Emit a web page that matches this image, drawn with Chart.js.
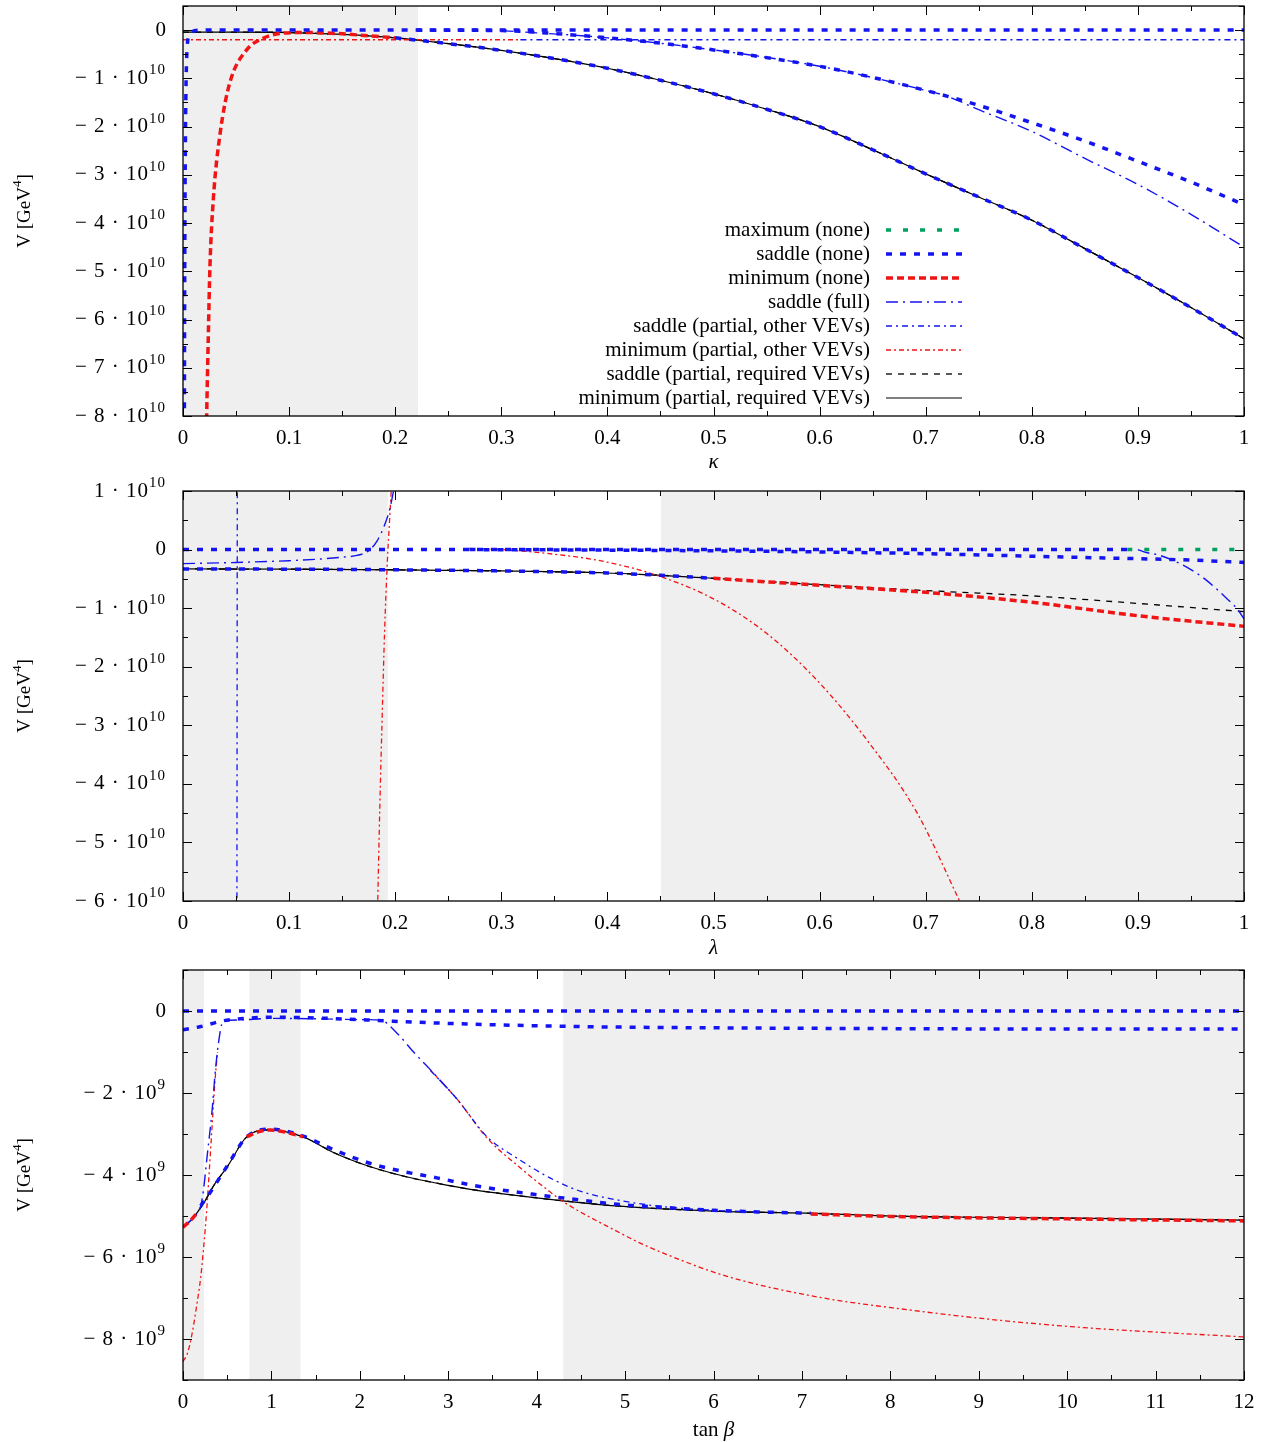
<!DOCTYPE html>
<html>
<head>
<meta charset="utf-8">
<script src="https://cdn.jsdelivr.net/npm/chart.js@4.4.0/dist/chart.umd.min.js"></script>
<style>
  html, body { margin: 0; padding: 0; background: #fff; }
  #wrap { position: relative; width: 1267px; height: 1442px; }
  canvas { position: absolute; left: 0; }
</style>
</head>
<body>
<div id="wrap">
  <canvas id="chartKappa" width="1267" height="475" style="top:0px"></canvas>
  <canvas id="chartLambda" width="1267" height="490" style="top:475px"></canvas>
  <canvas id="chartTanb" width="1267" height="477" style="top:965px"></canvas>
</div>
<script>
// ---------- tick labels ----------
const kappaTicks  = [0, 0.1, 0.2, 0.3, 0.4, 0.5, 0.6, 0.7, 0.8, 0.9, 1];
const lambdaTicks = [0, 0.1, 0.2, 0.3, 0.4, 0.5, 0.6, 0.7, 0.8, 0.9, 1];
const tanbTicks   = [0, 1, 2, 3, 4, 5, 6, 7, 8, 9, 10, 11, 12];
const kappaVTicks  = [-8, -7, -6, -5, -4, -3, -2, -1, 0];   // 10^10 GeV^4
const lambdaVTicks = [-6, -5, -4, -3, -2, -1, 0, 1];        // 10^10 GeV^4
const tanbVTicks   = [-8, -6, -4, -2, 0];                   // 10^9 GeV^4

// shaded parameter ranges
const kappaShade  = [[0, 0.2215]];
const lambdaShade = [[0, 0.193], [0.4505, 1]];
const tanbShade   = [[0, 0.237], [0.75, 1.33], [4.3, 12]];

// ---------- panel 1: V vs kappa (units 10^10 GeV^4) ----------
const kSadNoneAX = [0.0012, 0.0015, 0.0018, 0.0022, 0.0028, 0.0036, 0.005, 0.008, 0.015, 0.05, 1];
const kSadNoneAV = [-9, -6, -4, -2.5, -1.2, -0.5, -0.15, -0.04, 0, 0, 0];
const kSadNoneBX = [0.22, 0.3, 0.35, 0.4, 0.45, 0.5, 0.55, 0.6, 0.65, 0.7, 0.75, 0.8, 0.85, 0.9, 0.95, 1];
const kSadNoneBV = [0, -0.01, -0.07, -0.16, -0.27, -0.41, -0.57, -0.75, -0.98, -1.25, -1.56, -1.92, -2.3, -2.72, -3.15, -3.62];
const kMinReqX = [0, 0.05, 0.1, 0.15, 0.2, 0.25, 0.3, 0.35, 0.4, 0.45, 0.5, 0.55, 0.6, 0.65, 0.7, 0.75, 0.8, 0.85, 0.9, 0.95, 1];
const kMinReqV = [-0.04, -0.04, -0.05, -0.09, -0.16, -0.28, -0.42, -0.59, -0.79, -1.04, -1.32, -1.64, -2.0, -2.48, -2.98, -3.46, -3.94, -4.53, -5.13, -5.75, -6.4];
const kMinNoneX = [0.0215, 0.0223, 0.0239, 0.0254, 0.0286, 0.035, 0.044, 0.06, 0.0755, 0.0915, 0.113, 0.145, 0.176, 0.2];
const kMinNoneV = [-9, -8, -6.3, -4.9, -3.5, -2.14, -1.1, -0.41, -0.17, -0.07, -0.05, -0.07, -0.12, -0.16];
const kSadFullX = [0.3, 0.4, 0.5, 0.6, 0.7, 0.72, 0.75, 0.8, 0.85, 0.9, 0.95, 1];
const kSadFullV = [-0.01, -0.16, -0.41, -0.75, -1.25, -1.37, -1.65, -2.1, -2.66, -3.2, -3.82, -4.5];
const kSadOtherX = [0.318, 1];
const kSadOtherV = [-0.2, -0.2];
const kMinOtherX = [0, 0.318];
const kMinOtherV = [-0.2, -0.2];

// ---------- panel 2: V vs lambda (units 10^10 GeV^4) ----------
const lSadNoneAX = [0, 0.89];
const lSadNoneAV = [0, 0];
const lMaxNoneX = [0.89, 1];
const lMaxNoneV = [0, 0];
const lSadNoneBX = [0.27, 0.4, 0.55, 0.7, 0.77, 0.86, 0.95, 1];
const lSadNoneBV = [0, -0.01, -0.03, -0.07, -0.1, -0.14, -0.18, -0.22];
const lMinReqX = [0, 0.1, 0.2, 0.3, 0.4, 0.45, 0.5];
const lMinReqV = [-0.33, -0.335, -0.345, -0.365, -0.4, -0.44, -0.49];
const lSadReqX = [0, 0.1, 0.2, 0.3, 0.4, 0.45, 0.5, 0.6, 0.7, 0.8, 0.9, 1];
const lSadReqV = [-0.33, -0.335, -0.345, -0.365, -0.4, -0.44, -0.49, -0.6, -0.7, -0.79, -0.92, -1.06];
const lMinNoneX = [0.5, 0.6, 0.7, 0.8, 0.9, 1];
const lMinNoneV = [-0.49, -0.61, -0.73, -0.9, -1.13, -1.31];
const lMinOther1X = [0.1833, 0.1855, 0.1878, 0.19, 0.1925, 0.195, 0.1972];
const lMinOther1V = [-6.2, -4.4, -2.8, -1.4, -0.25, 0.6, 1.3];
const lMinOther2X = [0.27, 0.3, 0.35, 0.393, 0.45, 0.503, 0.55, 0.598, 0.645, 0.692, 0.732, 0.74];
const lMinOther2V = [0.02, 0, -0.08, -0.19, -0.46, -0.87, -1.43, -2.24, -3.26, -4.5, -6.0, -6.3];
const lSadFull1X = [0, 0.05, 0.1, 0.13, 0.15, 0.164, 0.175, 0.183, 0.19, 0.195, 0.199];
const lSadFull1V = [-0.24, -0.22, -0.19, -0.16, -0.13, -0.1, -0.02, 0.15, 0.42, 0.7, 1.05];
const lSadFull2X = [0.9, 0.908, 0.921, 0.946, 0.965, 0.984, 0.993, 1];
const lSadFull2V = [0, -0.05, -0.1, -0.3, -0.53, -0.84, -1.0, -1.18];
const lSadOtherX = [0.0508, 0.0512];
const lSadOtherV = [-6.5, 1.5];

// ---------- panel 3: V vs tan(beta) (units 10^9 GeV^4) ----------
const tSadNoneAX = [0, 12];
const tSadNoneAV = [0, 0];
const tSadNoneBX = [0, 0.2, 0.45, 0.7, 1.0, 1.5, 2.1, 2.6, 3.25, 4.0, 4.83, 6, 8, 10, 12];
const tSadNoneBV = [-0.46, -0.38, -0.24, -0.18, -0.15, -0.17, -0.22, -0.27, -0.32, -0.36, -0.39, -0.41, -0.43, -0.44, -0.44];
const tSadNoneCX = [0.2, 0.3, 0.5, 0.72, 0.98, 1.36, 1.7, 2.12, 2.5, 2.87, 3.25, 3.62, 4.0, 4.3, 4.94, 5.5, 6.0, 6.5, 7.1];
const tSadNoneCV = [-4.75, -4.45, -3.78, -3.07, -2.88, -3.05, -3.38, -3.72, -3.92, -4.07, -4.24, -4.37, -4.48, -4.56, -4.72, -4.8, -4.86, -4.9, -4.93];
const tMinReqX = [0, 0.1, 0.23, 0.35, 0.5, 0.72, 0.98, 1.36, 1.7, 2.12, 2.5, 2.87, 3.25, 3.62, 4.0, 4.3, 4.94, 6.0, 7.05, 8.0, 10.0, 12.0];
const tMinReqV = [-5.27, -5.08, -4.7, -4.25, -3.8, -3.07, -2.9, -3.07, -3.45, -3.8, -4.03, -4.2, -4.35, -4.46, -4.56, -4.63, -4.76, -4.88, -4.93, -5.0, -5.05, -5.1];
const tMinNone1X = [0, 0.08, 0.15];
const tMinNone1V = [-5.27, -5.12, -4.95];
const tMinNone2X = [0.72, 0.85, 0.98, 1.15, 1.36];
const tMinNone2V = [-3.07, -2.95, -2.9, -2.95, -3.07];
const tMinNone3X = [7.1, 8, 10, 12];
const tMinNone3V = [-4.95, -5.01, -5.07, -5.12];
const tSadFullX = [0, 0.1, 0.2, 0.23, 0.27, 0.33, 0.36, 0.4, 0.45, 0.61, 1.0, 1.5, 2.0, 2.23, 2.42, 2.6, 2.87, 3.1];
const tSadFullV = [-5.27, -5.08, -4.75, -4.4, -3.6, -2.4, -1.6, -0.8, -0.27, -0.22, -0.18, -0.19, -0.21, -0.22, -0.54, -0.98, -1.6, -2.15];
const tSadOtherX = [2.8, 3.1, 3.44, 3.8, 4.15, 4.5, 4.94, 5.42, 6.0, 6.5];
const tSadOtherV = [-1.45, -2.15, -3.07, -3.62, -4.07, -4.4, -4.62, -4.77, -4.86, -4.9];
const tMinOther1X = [0, 0.05, 0.1, 0.15, 0.2, 0.23, 0.27, 0.305, 0.335, 0.362, 0.39];
const tMinOther1V = [-8.55, -8.35, -7.9, -7.25, -6.5, -5.85, -4.8, -3.63, -2.6, -1.7, -1.0];
const tMinOther2X = [2.8, 3.1, 3.44, 3.8, 4.15, 4.3, 4.94, 5.17, 5.66, 6.18, 7.19, 8.21, 9.22, 10.24, 12];
const tMinOther2V = [-1.45, -2.15, -3.1, -3.8, -4.41, -4.65, -5.41, -5.66, -6.1, -6.49, -6.98, -7.29, -7.54, -7.73, -7.95];

// ---------- styles ----------
const BLUE = '#1414f0', RED = '#f01414', GREEN = '#00a060', BLACK = '#000';
const STYLES = {
  maxNone:  { color: GREEN, width: 3.5, dash: [5, 12] },
  sadNone:  { color: BLUE,  width: 3.5, dash: [6, 8] },
  minNone:  { color: RED,   width: 3.5, dash: [7, 4] },
  sadFull:  { color: BLUE,  width: 1.4, dash: [12, 5, 2, 5] },
  sadOther: { color: BLUE,  width: 1.3, dash: [6, 4, 2, 4] },
  minOther: { color: RED,   width: 1.3, dash: [5, 3, 2, 3] },
  sadReq:   { color: BLACK, width: 1.3, dash: [6, 6] },
  minReq:   { color: BLACK, width: 1.2, dash: [] }
};
const LEGEND = [
  ['maximum (none)', 'maxNone'],
  ['saddle (none)', 'sadNone'],
  ['minimum (none)', 'minNone'],
  ['saddle (full)', 'sadFull'],
  ['saddle (partial, other VEVs)', 'sadOther'],
  ['minimum (partial, other VEVs)', 'minOther'],
  ['saddle (partial, required VEVs)', 'sadReq'],
  ['minimum (partial, required VEVs)', 'minReq']
];

const FONT = '"Liberation Serif", "Times New Roman", "DejaVu Serif", serif';
Chart.defaults.font.family = FONT;
Chart.defaults.font.size = 21;
Chart.defaults.color = '#000';

// join one or more [xs, ys] pieces into points, with a gap between pieces
function points(...pieces) {
  const out = [];
  pieces.forEach(([xs, ys], p) => {
    if (p > 0) out.push({ x: (out[out.length - 1].x + xs[0]) / 2, y: null });
    xs.forEach((x, i) => out.push({ x, y: ys[i] }));
  });
  return out;
}

function line(key, data) {
  const s = STYLES[key];
  return {
    label: key,
    data,
    borderColor: s.color,
    borderWidth: s.width,
    borderDash: s.dash,
    borderCapStyle: 'butt',
    pointRadius: 0,
    fill: false,
    spanGaps: false,
    cubicInterpolationMode: 'monotone'
  };
}

// text with a raised exponent, right-aligned at xr
function supText(ctx, base, exp, xr, y, size) {
  ctx.textAlign = 'left';
  ctx.font = Math.round(size * 0.7) + 'px ' + FONT;
  const we = exp ? ctx.measureText(exp).width : 0;
  ctx.font = size + 'px ' + FONT;
  const wb = ctx.measureText(base).width;
  ctx.fillText(base, xr - we - wb, y);
  if (exp) {
    ctx.font = Math.round(size * 0.7) + 'px ' + FONT;
    ctx.fillText(exp, xr - we, y - size * 0.38);
  }
}

// shading, inward ticks, frame, labels and legend
const framePlugin = {
  id: 'frame',
  beforeDatasetsDraw(chart, args, opts) {
    const { ctx, chartArea: a, scales: { x } } = chart;
    ctx.save();
    ctx.fillStyle = '#efefef';
    (opts.shade || []).forEach(([x0, x1]) => {
      const p0 = x.getPixelForValue(x0), p1 = x.getPixelForValue(x1);
      ctx.fillRect(p0, a.top, p1 - p0, a.bottom - a.top);
    });
    ctx.restore();
  },
  afterDatasetsDraw(chart, args, opts) {
    const { ctx, chartArea: a, scales: { x, y } } = chart;
    ctx.save();
    ctx.strokeStyle = '#000';
    ctx.lineWidth = 1;
    ctx.setLineDash([]);
    const xTick = (v, len) => {
      const p = Math.round(x.getPixelForValue(v)) + 0.5;
      ctx.beginPath();
      ctx.moveTo(p, a.bottom); ctx.lineTo(p, a.bottom - len);
      ctx.moveTo(p, a.top); ctx.lineTo(p, a.top + len);
      ctx.stroke();
    };
    const yTick = (v, len) => {
      const p = Math.round(y.getPixelForValue(v)) + 0.5;
      ctx.beginPath();
      ctx.moveTo(a.left, p); ctx.lineTo(a.left + len, p);
      ctx.moveTo(a.right, p); ctx.lineTo(a.right - len, p);
      ctx.stroke();
    };
    const nx = Math.round((x.max - x.min) / opts.xMinor);
    for (let i = 0; i <= nx; i++) xTick(x.min + i * opts.xMinor, 5);
    const ny = Math.round((y.max - y.min) / opts.yMinor);
    for (let i = 0; i <= ny; i++) yTick(y.min + i * opts.yMinor, 5);
    x.ticks.forEach(t => xTick(t.value, 9));
    y.ticks.forEach(t => yTick(t.value, 9));
    ctx.lineWidth = 1.3;
    ctx.strokeRect(a.left, a.top, a.right - a.left, a.bottom - a.top);

    // y tick labels: "− n · 10^e"
    ctx.fillStyle = '#000';
    ctx.textBaseline = 'middle';
    y.ticks.forEach(t => {
      const py = y.getPixelForValue(t.value);
      if (t.value === 0) {
        supText(ctx, '0', '', a.left - 17, py, 21);
      } else {
        const base = (t.value < 0 ? '\u2212 ' : '') + Math.abs(t.value) + ' \u00b7 10';
        ctx.letterSpacing = '1px';
        supText(ctx, base, opts.yExp, a.left - 17, py, 21);
        ctx.letterSpacing = '0px';
      }
    });

    // y axis title, rotated
    ctx.save();
    ctx.translate(25, (a.top + a.bottom) / 2);
    ctx.rotate(-Math.PI / 2);
    ctx.font = '19px ' + FONT;
    const wA = ctx.measureText('V [GeV').width, wC = ctx.measureText(']').width;
    ctx.font = '13px ' + FONT;
    const wB = ctx.measureText('4').width;
    const x0 = -(wA + wB + wC) / 2;
    ctx.textAlign = 'left';
    ctx.font = '19px ' + FONT;
    ctx.fillText('V [GeV', x0, 0);
    ctx.fillText(']', x0 + wA + wB, 0);
    ctx.font = '13px ' + FONT;
    ctx.fillText('4', x0 + wA, -7);
    ctx.restore();

    // x axis title
    const cx = (a.left + a.right) / 2, ty = a.bottom + opts.titleGap;
    ctx.textAlign = 'left';
    ctx.font = '21px ' + FONT;
    const wn = ctx.measureText(opts.xTitleUp).width;
    ctx.font = 'italic 21px ' + FONT;
    const wi = ctx.measureText(opts.xTitleIt).width;
    ctx.font = '21px ' + FONT;
    ctx.fillText(opts.xTitleUp, cx - (wn + wi) / 2, ty);
    ctx.font = 'italic 21px ' + FONT;
    ctx.fillText(opts.xTitleIt, cx - (wn + wi) / 2 + wn, ty);

    if (opts.legend) {
      const lg = opts.legend;
      ctx.font = '21px ' + FONT;
      ctx.textAlign = 'right';
      ctx.textBaseline = 'middle';
      LEGEND.forEach(([text, key], i) => {
        const yy = lg.top + i * lg.step;
        ctx.fillStyle = '#000';
        ctx.fillText(text, lg.textRight, yy);
        const s = STYLES[key];
        ctx.strokeStyle = s.color;
        ctx.lineWidth = s.width;
        ctx.setLineDash(s.dash);
        ctx.lineCap = 'butt';
        ctx.beginPath();
        ctx.moveTo(lg.x0, yy);
        ctx.lineTo(lg.x1, yy);
        ctx.stroke();
      });
    }
    ctx.restore();
  }
};

function makeChart(id, cfg) {
  return new Chart(document.getElementById(id), {
    type: 'line',
    data: { datasets: cfg.datasets },
    plugins: [framePlugin],
    options: {
      responsive: false,
      animation: false,
      layout: { autoPadding: false, padding: { top: cfg.padTop, right: 23, left: 0, bottom: 0 } },
      plugins: {
        legend: { display: false },
        tooltip: { enabled: false },
        frame: {
          shade: cfg.shade, xMinor: cfg.xMinor, yMinor: cfg.yMinor, legend: cfg.legend,
          yExp: cfg.yExp, xTitleUp: cfg.xTitleUp, xTitleIt: cfg.xTitleIt, titleGap: cfg.titleGap
        }
      },
      scales: {
        x: {
          type: 'linear',
          min: cfg.xMin, max: cfg.xMax,
          afterBuildTicks: s => { s.ticks = cfg.xTicks.map(v => ({ value: v })); },
          afterFit: s => { s.height = cfg.xAxisHeight; s.paddingLeft = 0; s.paddingRight = 0; },
          grid: { display: false, drawTicks: false },
          border: { display: false },
          ticks: { autoSkip: false, maxRotation: 0, padding: 10,
                   callback: v => String(Math.round(v * 10) / 10) }
        },
        y: {
          type: 'linear',
          min: cfg.yMin, max: cfg.yMax,
          afterBuildTicks: s => { s.ticks = cfg.yTicks.map(v => ({ value: v })); },
          afterFit: s => { s.width = 183; s.paddingTop = 0; s.paddingBottom = 0; },
          grid: { display: false, drawTicks: false },
          border: { display: false },
          ticks: { display: false }
        }
      }
    }
  });
}

// ---------- panel 1 ----------
makeChart('chartKappa', {
  padTop: 6, xAxisHeight: 59,
  xMin: 0, xMax: 1, yMin: -8, yMax: 0.5,
  xTicks: kappaTicks, yTicks: kappaVTicks, xMinor: 0.05, yMinor: 0.5,
  xTitleUp: '', xTitleIt: '\u03ba', titleGap: 46, yExp: '10',
  shade: kappaShade,
  legend: { top: 230, step: 24, textRight: 870, x0: 886, x1: 962 },
  datasets: [
    line('sadNone', points([kSadNoneAX, kSadNoneAV])),
    line('sadNone', points([kSadNoneBX, kSadNoneBV])),
    line('sadNone', points([kMinReqX.slice(4), kMinReqV.slice(4)])),
    line('minNone', points([kMinNoneX, kMinNoneV])),
    line('sadFull', points([kSadFullX, kSadFullV])),
    line('sadOther', points([kSadOtherX, kSadOtherV])),
    line('minOther', points([kMinOtherX, kMinOtherV])),
    line('sadReq', points([kMinReqX, kMinReqV])),
    line('minReq', points([kMinReqX, kMinReqV]))
  ]
});

// ---------- panel 2 ----------
makeChart('chartLambda', {
  padTop: 16, xAxisHeight: 64,
  xMin: 0, xMax: 1, yMin: -6, yMax: 1,
  xTicks: lambdaTicks, yTicks: lambdaVTicks, xMinor: 0.05, yMinor: 0.5,
  xTitleUp: '', xTitleIt: '\u03bb', titleGap: 47, yExp: '10',
  shade: lambdaShade,
  datasets: [
    line('maxNone', points([lMaxNoneX, lMaxNoneV])),
    line('sadNone', points([lSadNoneAX, lSadNoneAV])),
    line('sadNone', points([lSadNoneBX, lSadNoneBV])),
    line('sadNone', points([lMinReqX, lMinReqV])),
    line('minNone', points([lMinNoneX, lMinNoneV])),
    line('sadFull', points([lSadFull1X, lSadFull1V], [lSadFull2X, lSadFull2V])),
    line('sadOther', points([lSadOtherX, lSadOtherV])),
    line('minOther', points([lMinOther1X, lMinOther1V], [lMinOther2X, lMinOther2V])),
    line('sadReq', points([lSadReqX, lSadReqV])),
    line('minReq', points([lMinReqX, lMinReqV]))
  ]
});

// ---------- panel 3 ----------
makeChart('chartTanb', {
  padTop: 5, xAxisHeight: 62,
  xMin: 0, xMax: 12, yMin: -9, yMax: 1,
  xTicks: tanbTicks, yTicks: tanbVTicks, xMinor: 0.5, yMinor: 1,
  xTitleUp: 'tan ', xTitleIt: '\u03b2', titleGap: 50, yExp: '9',
  shade: tanbShade,
  datasets: [
    line('sadNone', points([tSadNoneAX, tSadNoneAV])),
    line('sadNone', points([tSadNoneBX, tSadNoneBV])),
    line('minNone', points([tMinNone1X, tMinNone1V], [tMinNone2X, tMinNone2V], [tMinNone3X, tMinNone3V])),
    line('sadNone', points([tSadNoneCX, tSadNoneCV])),
    line('sadFull', points([tSadFullX, tSadFullV])),
    line('sadOther', points([tSadOtherX, tSadOtherV])),
    line('minOther', points([tMinOther1X, tMinOther1V], [tMinOther2X, tMinOther2V])),
    line('sadReq', points([tMinReqX, tMinReqV])),
    line('minReq', points([tMinReqX, tMinReqV]))
  ]
});
</script>
</body>
</html>
